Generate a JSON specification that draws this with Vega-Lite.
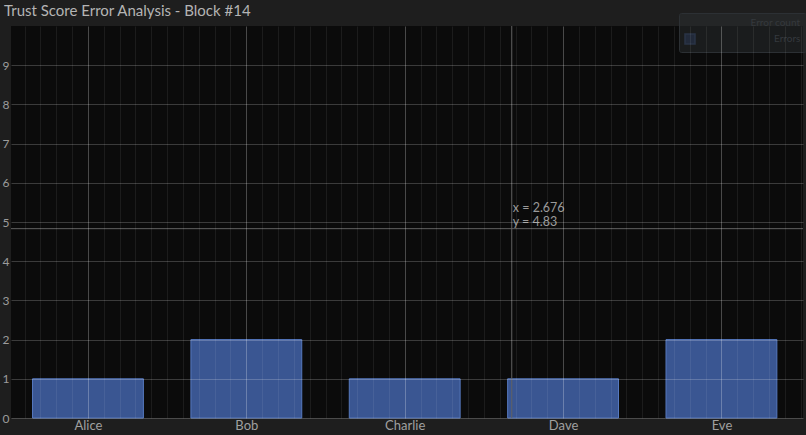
{
  "$schema": "https://vega.github.io/schema/vega-lite/v6.json",
  "width": 792,
  "height": 392,
  "autosize": "none",
  "padding": {"left": 11, "top": 26, "right": 3, "bottom": 17},
  "background": "#1e1e1e",
  "title": {
    "text": "Trust Score Error Analysis - Block #14",
    "anchor": "start",
    "frame": "group",
    "dx": -7,
    "dy": 13,
    "offset": 7,
    "fontSize": 15,
    "fontWeight": "normal",
    "font": "Lato",
    "color": "#b4b4b4"
  },
  "config": {
    "view": {"fill": "#0b0b0b", "stroke": null},
    "font": "Lato",
    "text": {"lineBreak": "\n"},
    "legend": {
      "orient": "none",
      "legendX": 668,
      "legendY": -13,
      "fillColor": "rgba(44,48,52,0.45)",
      "strokeColor": "#2c3034",
      "padding": 5,
      "cornerRadius": 2,
      "titleColor": "#35393d",
      "labelColor": "#35393d",
      "titleFontSize": 10,
      "labelFontSize": 10,
      "titleFontWeight": "normal",
      "titleAnchor": "end",
      "labelOffset": 78,
      "symbolOpacity": 0.25
    }
  },
  "datasets": {
    "counts": [
      {"name": "Alice", "idx": 0, "count": 1},
      {"name": "Bob", "idx": 1, "count": 2},
      {"name": "Charlie", "idx": 2, "count": 1},
      {"name": "Dave", "idx": 3, "count": 1},
      {"name": "Eve", "idx": 4, "count": 2}
    ],
    "cursor": [
      {"cx": 2.676, "cy": 4.83, "label": "x = 2.676\ny = 4.83"}
    ]
  },
  "resolve": {"axis": {"x": "independent"}},
  "layer": [
    {
      "data": {"name": "counts"},
      "transform": [
        {"calculate": "datum.idx - 0.35", "as": "x0"},
        {"calculate": "datum.idx + 0.35", "as": "x1"}
      ],
      "mark": {"type": "rect", "fill": "#3a5692", "stroke": "#5679bf", "strokeWidth": 1},
      "encoding": {
        "x": {
          "field": "x0",
          "type": "quantitative",
          "scale": {"domain": [-0.486, 4.515], "nice": false, "zero": false},
          "axis": {
            "orient": "bottom",
            "tickCount": 50,
            "labels": false,
            "ticks": false,
            "domain": false,
            "title": null,
            "grid": true,
            "gridColor": "#ffffff",
            "gridOpacity": 0.07,
            "zindex": 1
          }
        },
        "x2": {"field": "x1"},
        "y": {
          "field": "count",
          "type": "quantitative",
          "scale": {"domain": [0, 10], "nice": false},
          "axis": {
            "values": [0, 1, 2, 3, 4, 5, 6, 7, 8, 9],
            "title": null,
            "ticks": false,
            "domain": false,
            "labelPadding": 2,
            "labelColor": "#9c9c9c",
            "labelFontSize": 12,
            "grid": true,
            "gridColor": "#ffffff",
            "gridOpacity": 0.2,
            "zindex": 1
          }
        },
        "y2": {"datum": 0},
        "color": {
          "datum": "Errors",
          "scale": {"range": ["#3a5692"]},
          "legend": {"title": "Error count", "symbolType": "square"}
        }
      }
    },
    {
      "data": {"name": "cursor"},
      "mark": {"type": "rule", "color": "#626262", "strokeWidth": 1},
      "encoding": {
        "x": {
          "field": "cx",
          "type": "quantitative",
          "axis": {
            "orient": "bottom",
            "values": [0, 1, 2, 3, 4],
            "labelExpr": "['Alice','Bob','Charlie','Dave','Eve'][datum.value]",
            "labelColor": "#a0a0a0",
            "labelFontSize": 13,
            "labelPadding": 1,
            "ticks": false,
            "domain": false,
            "title": null,
            "grid": true,
            "gridColor": "#ffffff",
            "gridOpacity": 0.2,
            "zindex": 1
          }
        }
      }
    },
    {
      "data": {"name": "cursor"},
      "mark": {"type": "rule", "color": "#626262", "strokeWidth": 1},
      "encoding": {
        "y": {"field": "cy", "type": "quantitative"}
      }
    },
    {
      "data": {"name": "cursor"},
      "mark": {
        "type": "text",
        "align": "left",
        "baseline": "bottom",
        "dx": 1,
        "dy": -14,
        "fontSize": 12.5,
        "lineHeight": 14,
        "color": "#9a9a9a"
      },
      "encoding": {
        "x": {"field": "cx", "type": "quantitative", "axis": null},
        "y": {"field": "cy", "type": "quantitative"},
        "text": {"field": "label"}
      }
    }
  ]
}
